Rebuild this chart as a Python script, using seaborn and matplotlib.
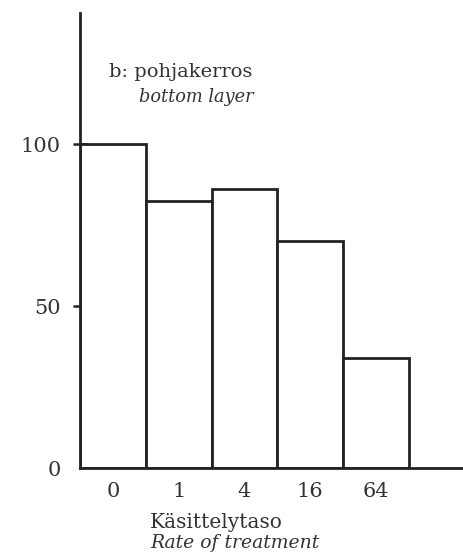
import matplotlib
matplotlib.use("Agg")
import matplotlib.pyplot as plt
import seaborn as sns
import pandas as pd

# Data
categories = ["0", "1", "4", "16", "64"]
values = [100, 82.5, 86, 70, 34]
ytick_values = [0, 50, 100]
ytick_labels = ["0", "50", "100"]

sns.set_theme(style="white")
plt.rcParams["font.family"] = ["DejaVu Serif"]

df = pd.DataFrame({"rate": categories, "value": values})

W, H = 464, 553
fig = plt.figure(figsize=(W / 100, H / 100), dpi=100)
ax = fig.add_axes([80 / W, 1 - 468 / H, 1 - 80 / W, (468 - 13) / H])

sns.barplot(data=df, x="rate", y="value", order=categories, color="white",
            saturation=1, edgecolor="#222222", linewidth=2.0, width=1.0, ax=ax)

ax.set_xlim(-0.5, 5.34)
ax.set_ylim(0, 140.5)
ax.set_yticks(ytick_values)
ax.set_yticklabels(ytick_labels)
ax.set_xlabel("")
ax.set_ylabel("")

for s in ["top", "right"]:
    ax.spines[s].set_visible(False)
for s in ["left", "bottom"]:
    ax.spines[s].set_color("#222222")
    ax.spines[s].set_linewidth(2.0)

ax.tick_params(axis="y", direction="inout", length=10, width=1.8, color="#222222",
               labelsize=15, pad=9, left=True, labelcolor="#333333")
ax.tick_params(axis="x", length=0, labelsize=15, pad=10, labelcolor="#333333")
ax.yaxis.get_major_ticks()[0].tick1line.set_visible(False)

txt = "#333333"
fig.text(109 / W, 1 - 72 / H, "b: pohjakerros", fontsize=14, color=txt,
         ha="left", va="center")
fig.text(139 / W, 1 - 97 / H, "bottom layer", fontsize=12.8, style="italic",
         color=txt, ha="left", va="center")

fig.text(150 / W, 1 - 522 / H, "Käsittelytaso", fontsize=14.5, color=txt,
         ha="left", va="center")
fig.text(150 / W, 1 - 543 / H, "Rate of treatment", fontsize=13.5, style="italic",
         color=txt, ha="left", va="center")

fig.savefig("out.png", dpi=100, facecolor="white")
